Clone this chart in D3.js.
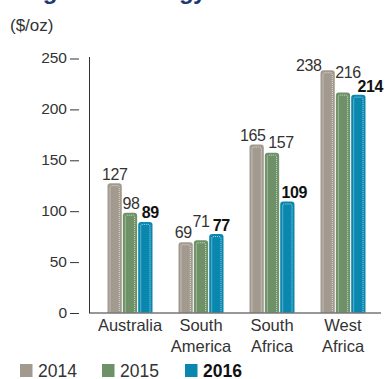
<!DOCTYPE html>
<html><head><meta charset="utf-8">
<script src="https://cdn.jsdelivr.net/npm/d3@7"></script>
<style>
html,body{margin:0;padding:0;background:#fff;}
svg{display:block;font-family:"Liberation Sans",Arial,Helvetica,sans-serif;}
</style></head>
<body>
<svg id="chart" width="385" height="379"></svg>
<script>
const titleText = "Regional strategy";
const unitLabel = "($/oz)";
const categories = [["Australia"], ["South", "America"], ["South", "Africa"], ["West", "Africa"]];
const categoryKeys = ["Australia", "South America", "South Africa", "West Africa"];
const seriesNames = ["2014", "2015", "2016"];
const values2014 = [127, 69, 165, 238];
const values2015 = [98, 71, 157, 216];
const values2016 = [89, 77, 109, 214];
const yTicks = [0, 50, 100, 150, 200, 250];
// label nudges [dx, dy] per category per series (placement only)
const labelNudge = [
  [[0,0],[1,0],[5,0]],
  [[-2.5,-1],[0,-10],[5,0]],
  [[-4,0],[9,-1],[7,0]],
  [[-19,4],[5,-11],[12,1]]
];
const colors = ["#a39a8f", "#6e9168", "#0a87ae"];

const svg = d3.select("#chart");
const seriesValues = [values2014, values2015, values2016];

// title (clipped at top, as in the reference)
svg.append("text").attr("x", 13).attr("y", -1)
  .attr("font-size", 24).attr("font-weight", "bold").attr("letter-spacing", "-0.5px")
  .attr("fill", "#1d3872").text(titleText);

svg.append("text").attr("x", 10).attr("y", 31).attr("font-size", 17)
  .attr("fill", "#333").text(unitLabel);

const y = d3.scaleLinear().domain([0, 250]).range([312.5, 58]);
const xc = d3.scalePoint().domain(categoryKeys).range([130, 343]);
const xs = d3.scaleBand().domain(seriesNames).range([-22.5, 22.5]).paddingInner(0.07);

// y axis
const yAxis = d3.axisLeft(y).tickValues(yTicks).tickSize(0).tickPadding(0);
const gy = svg.append("g").attr("transform", "translate(89,0)").call(yAxis);
gy.select(".domain").remove();
gy.selectAll(".tick text").attr("x", -22).attr("font-size", 15.5).attr("fill", "#333")
  .attr("font-family", "Liberation Sans, Arial, sans-serif");
gy.selectAll(".tick").append("line").attr("x1", -19).attr("x2", -10)
  .attr("y1", 0.5).attr("y2", 0.5).attr("stroke", "#333").attr("stroke-width", 1);
svg.append("line").attr("x1", 89.5).attr("x2", 89.5).attr("y1", 57).attr("y2", 313)
  .attr("stroke", "#333").attr("stroke-width", 1);

// bars
function barPath(x0, x1, yt, yb, r) {
  return `M${x0},${yb}V${yt + r}Q${x0},${yt} ${x0 + r},${yt}H${x1 - r}Q${x1},${yt} ${x1},${yt + r}V${yb}Z`;
}
function innerPath(x0, x1, yt, yb, r) {
  return `M${x0},${yb}V${yt + r}Q${x0},${yt} ${x0 + r},${yt}H${x1 - r}Q${x1},${yt} ${x1},${yt + r}V${yb}`;
}
const data = [];
categoryKeys.forEach((c, i) => seriesNames.forEach((s, j) => {
  data.push({c, i, s, j, v: seriesValues[j][i]});
}));
const gb = svg.append("g");
data.forEach(d => {
  const x0 = xc(d.c) + xs(d.s), x1 = x0 + xs.bandwidth();
  const yt = y(d.v), yb = y(0);
  gb.append("path").attr("d", barPath(x0, x1, yt, yb, 3)).attr("fill", colors[d.j]);
  gb.append("path").attr("d", innerPath(x0 + 2.5, x1 - 2.5, yt + 2.5, yb, 2))
    .attr("fill", "none").attr("stroke", "#fff").attr("stroke-width", 0.8)
    .attr("stroke-dasharray", "1,1").attr("opacity", 0.85);
});
// labels
data.forEach(d => {
  const cx = xc(d.c) + xs(d.s) + xs.bandwidth() / 2;
  const nd = labelNudge[d.i][d.j];
  svg.append("text").attr("x", cx + nd[0]).attr("y", y(d.v) - 3.5 + nd[1])
    .attr("text-anchor", "middle").attr("font-size", 16).attr("letter-spacing", "-0.4px")
    .attr("font-weight", d.j === 2 ? "bold" : "normal")
    .attr("fill", d.j === 2 ? "#111" : "#333").text(d.v);
});

// x axis baseline
svg.append("line").attr("x1", 89).attr("x2", 381).attr("y1", 313).attr("y2", 313)
  .attr("stroke", "#333").attr("stroke-width", 1);
categories.forEach((lines, i) => {
  const t = svg.append("text").attr("text-anchor", "middle").attr("font-size", 16.5).attr("fill", "#333");
  lines.forEach((ln, k) => t.append("tspan").attr("x", xc(categoryKeys[i])).attr("y", 331 + k * 21).text(ln));
});

// legend
const legendX = [20, 102, 185];
seriesNames.forEach((s, j) => {
  svg.append("rect").attr("x", legendX[j]).attr("y", 364).attr("width", 12.5).attr("height", 13).attr("fill", colors[j]);
  svg.append("text").attr("x", legendX[j] + 18).attr("y", 376.5).attr("font-size", 17.5)
    .attr("font-weight", j === 2 ? "bold" : "normal").attr("fill", j === 2 ? "#111" : "#333").text(s);
});
</script>
</body></html>
